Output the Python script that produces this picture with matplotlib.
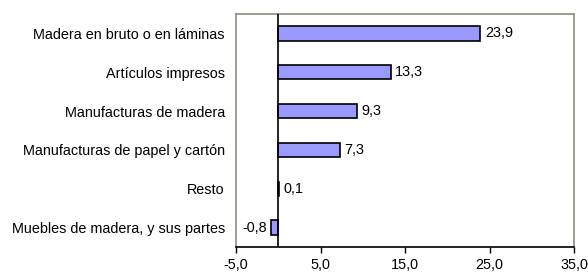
import matplotlib
matplotlib.use("Agg")
import matplotlib.pyplot as plt

plt.rcParams['font.family'] = ['Liberation Sans', 'DejaVu Sans']

categories = ["Madera en bruto o en láminas", "Artículos impresos",
              "Manufacturas de madera", "Manufacturas de papel y cartón",
              "Resto", "Muebles de madera, y sus partes"]
values = [23.9, 13.3, 9.3, 7.3, 0.1, -0.8]
xticks = [-5, 5, 15, 25, 35]

FS = 10.4

fig = plt.figure(figsize=(5.88, 2.73), dpi=100)
ax = fig.add_axes([236/588, 1-247/273, (574-236)/588, (247-14)/273])

ypos = list(range(len(categories)))
ax.barh(ypos, values, height=0.37, color='#9999FF', edgecolor='black', linewidth=1.2, zorder=3)
ax.set_ylim(len(categories)-0.5, -0.5)
ax.set_xlim(-5, 35)
ax.axvline(0, color='black', linewidth=1.2, zorder=4)

def fmt(v):
    return f"{v:.1f}".replace('.', ',')

for y, v in zip(ypos, values):
    if v >= 0:
        ax.text(v + 0.55, y, fmt(v), va='center', ha='left', fontsize=FS)
    else:
        ax.text(v - 0.55, y, fmt(v), va='center', ha='right', fontsize=FS)

ax.set_yticks(ypos)
ax.set_yticklabels(categories, fontsize=FS)
ax.tick_params(axis='y', length=0, pad=8)
ax.set_xticks(xticks)
ax.set_xticklabels([fmt(t) for t in xticks], fontsize=FS)
ax.tick_params(axis='x', direction='out', length=4, width=1, pad=4)

for s in ['left', 'top', 'right']:
    ax.spines[s].set_color('#8c8c80')
    ax.spines[s].set_linewidth(1.2)
ax.spines['bottom'].set_color('black')
ax.spines['bottom'].set_linewidth(1.2)

fig.savefig('out.png', dpi=100)
